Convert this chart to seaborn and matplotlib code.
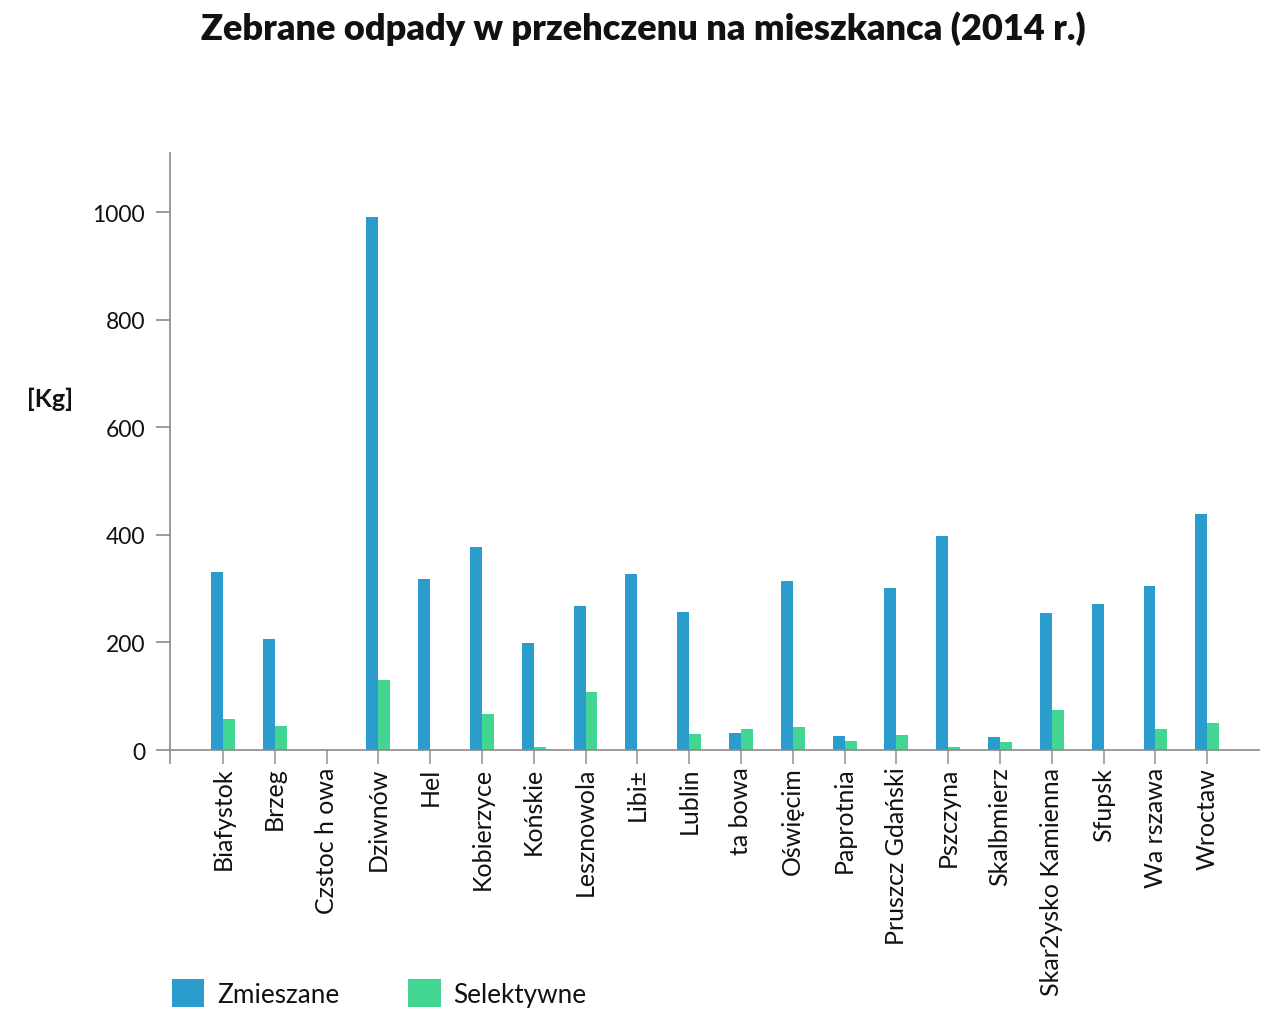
import pandas as pd
import seaborn as sns
import matplotlib.pyplot as plt

# Data
miasta = ['Biafystok', 'Brzeg', 'Czstoc h owa', 'Dziwnów', 'Hel', 'Kobierzyce',
          'Końskie', 'Lesznowola', 'Libi±', 'Lublin', 'ta bowa', 'Oświęcim',
          'Paprotnia', 'Pruszcz Gdański', 'Pszczyna', 'Skalbmierz',
          'Skar2ysko Kamienna', 'Sfupsk', 'Wa rszawa', 'Wroctaw']
zmieszane = [331, 206, 0, 991, 318, 378, 199, 268, 328, 257,
             32, 315, 27, 302, 398, 24, 255, 271, 305, 438]
selektywne = [58, 45, 0, 130, 0, 67, 5, 108, 0, 29,
              39, 43, 17, 28, 5, 15, 74, 0, 39, 50]
rodzaje = ['Zmieszane', 'Selektywne']
kolory = ['#2B9DCC', '#43D693']

df = pd.DataFrame({
    'Miasto': miasta * 2,
    'Rodzaj': [rodzaje[0]] * len(miasta) + [rodzaje[1]] * len(miasta),
    'Kg': zmieszane + selektywne,
})

sns.set_style('white')
plt.rcParams['font.family'] = ['Lato', 'DejaVu Sans']
plt.rcParams['text.color'] = '#111111'
plt.rcParams['xtick.labelcolor'] = '#111111'
plt.rcParams['ytick.labelcolor'] = '#111111'

fig = plt.figure(figsize=(12.71, 10.12), dpi=100)
ax = fig.add_axes([0.1338, 0.2451, 0.8568, 0.6027])

sns.barplot(data=df, x='Miasto', y='Kg', hue='Rodzaj', order=miasta,
            hue_order=rodzaje, palette=kolory, width=0.46, linewidth=0,
            saturation=1, ax=ax, legend=True)

ax.set_xlim(-1.02, 20.0)
ax.set_ylim(-24, 1110)
ax.set_yticks([0, 200, 400, 600, 800, 1000])

# axis styling
for s in ['top', 'right']:
    ax.spines[s].set_visible(False)
ax.spines['bottom'].set_position(('data', 0))
for s in ['left', 'bottom']:
    ax.spines[s].set_color('#8a8a8a')
    ax.spines[s].set_linewidth(1.2)
ax.tick_params(axis='x', bottom=True, length=10, width=1.2, color='#9a9a9a',
               pad=2, labelsize=18, labelrotation=90)
ax.tick_params(axis='y', left=True, length=10, width=1.2, color='#8a8a8a',
               pad=8, labelsize=16.5)
ax.set_xlabel('')
ax.set_ylabel('[Kg]', rotation=0, fontsize=18, fontweight='bold', color='#111111')
ax.yaxis.set_label_coords(-0.11, 0.578)

fig.suptitle('Zebrane odpady w przehczenu na mieszkanca (2014 r.)',
             x=0.506, y=0.972, va='center', fontsize=26, fontweight='heavy')

ax.legend_.remove()
h, l = ax.get_legend_handles_labels()
fig.legend(h, l, loc='lower left', bbox_to_anchor=(0.1165, -0.019), ncol=2,
           frameon=False, fontsize=18.8, handlelength=1.26, handleheight=1.26,
           handletextpad=0.5, columnspacing=2.6)

fig.savefig('out.png', dpi=100)
